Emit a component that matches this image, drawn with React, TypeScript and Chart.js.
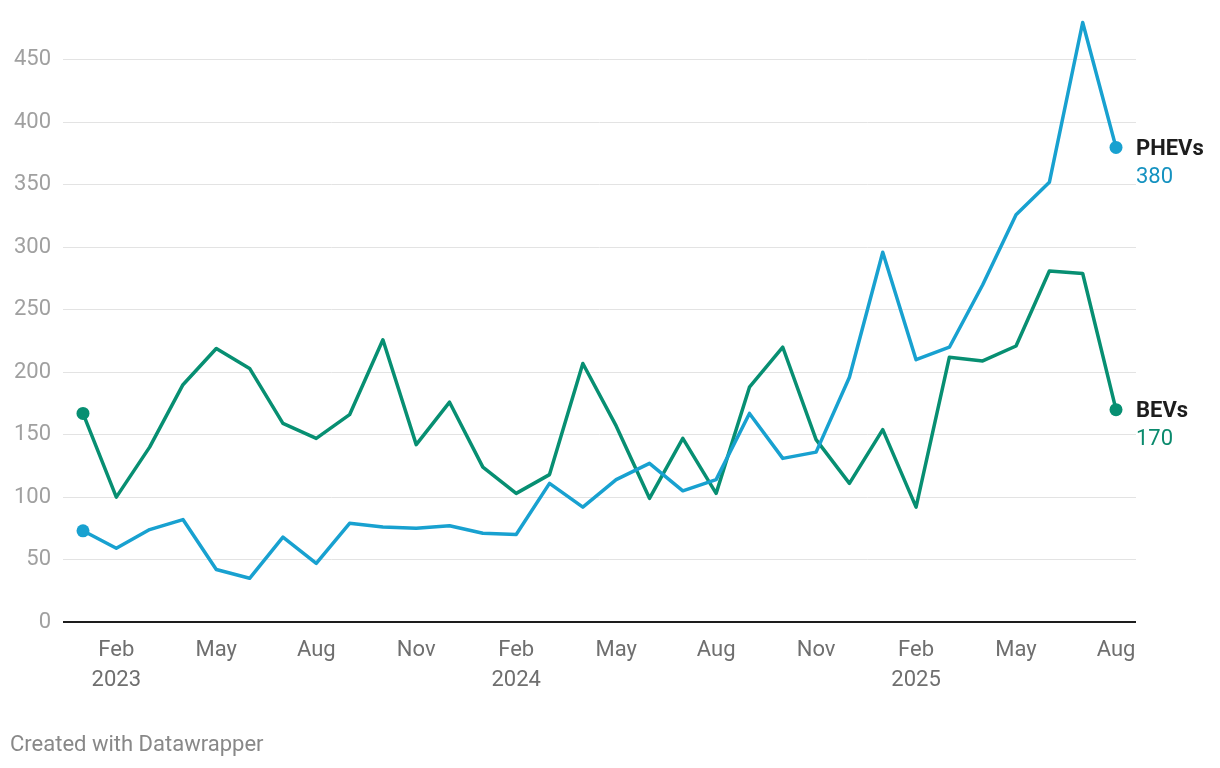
import React, { useEffect, useRef } from "react";
import { Chart, registerables } from "chart.js";

Chart.register(...registerables);

const months = [
  "Jan 2023", "Feb 2023", "Mar 2023", "Apr 2023", "May 2023", "Jun 2023",
  "Jul 2023", "Aug 2023", "Sep 2023", "Oct 2023", "Nov 2023", "Dec 2023",
  "Jan 2024", "Feb 2024", "Mar 2024", "Apr 2024", "May 2024", "Jun 2024",
  "Jul 2024", "Aug 2024", "Sep 2024", "Oct 2024", "Nov 2024", "Dec 2024",
  "Jan 2025", "Feb 2025", "Mar 2025", "Apr 2025", "May 2025", "Jun 2025",
  "Jul 2025", "Aug 2025",
];

const phevValues = [
  73, 59, 74, 82, 42, 35, 68, 47, 79, 76, 75, 77,
  71, 70, 111, 92, 114, 127, 105, 114, 167, 131, 136, 196,
  296, 210, 220, 270, 326, 352, 480, 380,
];

const bevValues = [
  167, 100, 140, 190, 219, 203, 159, 147, 166, 226, 142, 176,
  124, 103, 118, 207, 157, 99, 147, 103, 188, 220, 146, 111,
  154, 92, 212, 209, 221, 281, 279, 170,
];

const xTickMonths = ["Feb", "May", "Aug", "Nov"];
const yTicks = [0, 50, 100, 150, 200, 250, 300, 350, 400, 450];

const seriesNames = ["PHEVs", "BEVs"];
const seriesLabels = ["380", "170"];

const PHEV_COLOR = "#18a1d0";
const BEV_COLOR = "#078f72";
const FONT = "Roboto, 'Noto Sans', sans-serif";

export default function App() {
  const ref = useRef<HTMLCanvasElement | null>(null);

  useEffect(() => {
    if (!ref.current) return;
    const last = months.length - 1;
    const xTickIdx = months
      .map((m, i) => (xTickMonths.includes(m.split(" ")[0]) ? i : -1))
      .filter((i) => i >= 0);

    const endLabels = {
      id: "endLabels",
      afterDatasetsDraw(chart: any) {
        const ctx = chart.ctx;
        const area = chart.chartArea;
        chart.data.datasets.forEach((ds: any, di: number) => {
          const meta = chart.getDatasetMeta(di);
          const pt = meta.data[meta.data.length - 1];
          if (!pt) return;
          ctx.save();
          ctx.textAlign = "left";
          ctx.textBaseline = "middle";
          ctx.font = `bold 22px ${FONT}`;
          ctx.fillStyle = "#1d1d1d";
          ctx.fillText(seriesNames[di], area.right, pt.y + 2);
          ctx.font = `22px ${FONT}`;
          ctx.fillStyle = ds.labelColor;
          ctx.fillText(seriesLabels[di], area.right, pt.y + 30);
          ctx.restore();
        });
        ctx.save();
        ctx.font = `22px ${FONT}`;
        ctx.fillStyle = "#888888";
        ctx.textAlign = "left";
        ctx.textBaseline = "middle";
        ctx.fillText("Created with Datawrapper", 10, 745);
        ctx.restore();
      },
    };

    const chart = new Chart(ref.current, {
      type: "line",
      data: {
        datasets: [
          {
            label: "PHEVs",
            data: phevValues.map((v, i) => ({ x: i, y: v })),
            borderColor: PHEV_COLOR,
            backgroundColor: PHEV_COLOR,
            borderWidth: 3.5,
            labelColor: "#1592c0",
            pointRadius: (c: any) => (c.dataIndex === 0 || c.dataIndex === last ? 6.5 : 0),
            pointHoverRadius: 0,
            pointBorderWidth: 0,
            tension: 0,
            borderJoinStyle: "round",
          } as any,
          {
            label: "BEVs",
            data: bevValues.map((v, i) => ({ x: i, y: v })),
            borderColor: BEV_COLOR,
            backgroundColor: BEV_COLOR,
            borderWidth: 3.5,
            labelColor: "#0a8a6d",
            pointRadius: (c: any) => (c.dataIndex === 0 || c.dataIndex === last ? 6.5 : 0),
            pointHoverRadius: 0,
            pointBorderWidth: 0,
            tension: 0,
            borderJoinStyle: "round",
          } as any,
        ],
      },
      options: {
        responsive: false,
        animation: false,
        layout: { padding: { top: 10, right: 84, bottom: 0, left: 0 } },
        plugins: {
          legend: { display: false },
          tooltip: { enabled: false },
        },
        scales: {
          x: {
            type: "linear",
            min: -0.6,
            max: last + 0.6,
            grid: { display: false, drawTicks: false },
            border: { display: false },
            afterBuildTicks: (scale: any) => {
              scale.ticks = xTickIdx.map((v) => ({ value: v }));
            },
            afterFit: (scale: any) => {
              scale.height = 146;
              scale.paddingLeft = 0;
              scale.paddingRight = 0;
            },
            ticks: {
              autoSkip: false,
              maxRotation: 0,
              padding: 14,
              color: "#6f6f6f",
              font: { family: FONT, size: 22, lineHeight: 1.36 },
              callback: (v: any) => {
                const [m, y] = months[v].split(" ");
                return m === "Feb" ? [m, y] : m;
              },
            },
          },
          y: {
            min: 0,
            max: 490,
            grid: {
              drawTicks: false,
              color: (c: any) => (c.tick && c.tick.value === 0 ? "#1d1d1d" : "#e3e3e3"),
              lineWidth: (c: any) => (c.tick && c.tick.value === 0 ? 2 : 1),
            },
            border: { display: false },
            afterBuildTicks: (scale: any) => {
              scale.ticks = yTicks.map((v) => ({ value: v }));
            },
            afterFit: (scale: any) => {
              scale.width = 63;
              scale.paddingTop = 0;
              scale.paddingBottom = 0;
            },
            ticks: {
              padding: 12,
              color: "#a0a0a0",
              font: { family: FONT, size: 22 },
            },
          },
        },
      },
      plugins: [endLabels],
    });
    return () => chart.destroy();
  }, []);

  return (
    <div style={{ position: "absolute", left: 0, top: 0, width: 1220, height: 768, background: "#fff" }}>
      <canvas ref={ref} width={1220} height={768} />
    </div>
  );
}
